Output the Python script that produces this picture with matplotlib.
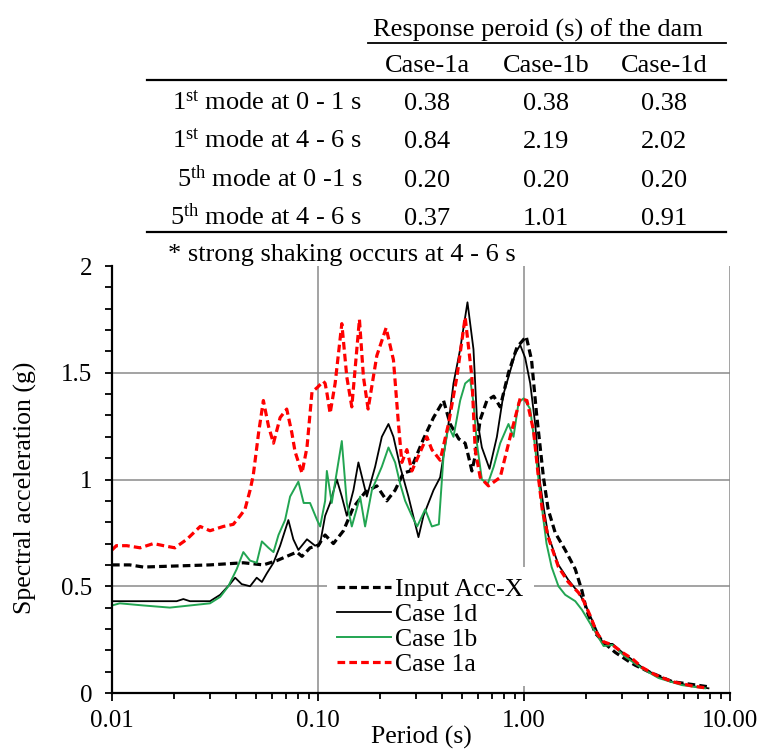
import matplotlib
matplotlib.use("Agg")
import matplotlib.pyplot as plt
from matplotlib.lines import Line2D
from matplotlib.ticker import LogLocator, FormatStrFormatter, MultipleLocator, NullFormatter

plt.rcParams['font.family'] = ['Liberation Serif', 'DejaVu Serif']
plt.rcParams['mathtext.fontset'] = 'custom'
plt.rcParams['mathtext.rm'] = 'Liberation Serif'
plt.rcParams['mathtext.it'] = 'Liberation Serif:italic'

# response spectra (period in s, spectral acceleration in g)
input_T = [0.0100, 0.0122, 0.0142, 0.0206, 0.0299, 0.0434, 0.0543, 0.0631, 0.0705, 0.0789,
           0.0836, 0.0915, 0.1003, 0.1062, 0.1083, 0.1188, 0.1329, 0.1486, 0.1693, 0.1930,
           0.2158, 0.2368, 0.2597, 0.2802, 0.3251, 0.3636, 0.4068, 0.4381, 0.4826, 0.5181,
           0.5371, 0.5585, 0.5794, 0.6128, 0.6604, 0.7129, 0.7663, 0.8407, 0.9249, 1.025,
           1.088, 1.150, 1.243, 1.310, 1.418, 1.585, 1.774, 1.910, 2.010, 2.218,
           2.480, 2.774, 3.240, 3.467, 4.025, 5.250, 7.740]
input_sa = [0.60, 0.60, 0.59, 0.595, 0.60, 0.61, 0.60, 0.62, 0.64, 0.66,
            0.64, 0.68, 0.69, 0.73, 0.74, 0.70, 0.76, 0.87, 0.94, 0.97,
            0.90, 0.95, 1.03, 1.04, 1.19, 1.29, 1.37, 1.26, 1.19, 1.17,
            1.11, 1.04, 1.11, 1.28, 1.37, 1.39, 1.34, 1.50, 1.62, 1.67,
            1.56, 1.31, 1.01, 0.86, 0.75, 0.67, 0.58, 0.48, 0.39, 0.28,
            0.23, 0.19, 0.147, 0.13, 0.10, 0.053, 0.030]

case1d_T = [0.0100, 0.0142, 0.0206, 0.0222, 0.0239, 0.0299, 0.0335, 0.0374, 0.0396, 0.0426,
            0.0468, 0.0504, 0.0534, 0.0564, 0.0608, 0.0655, 0.0718, 0.0759, 0.0803, 0.0884,
            0.0968, 0.1024, 0.1083, 0.1145, 0.1234, 0.1305, 0.1380, 0.1486, 0.1571, 0.1726,
            0.1894, 0.2041, 0.2198, 0.2324, 0.2505, 0.2748, 0.3074, 0.3251, 0.3636, 0.3917,
            0.4298, 0.4546, 0.4899, 0.5316, 0.5685, 0.5906, 0.6245, 0.6801, 0.7386, 0.7950,
            0.8407, 0.9064, 0.9583, 1.013, 1.072, 1.133, 1.199, 1.250, 1.310, 1.470,
            1.640, 1.840, 1.950, 2.100, 2.260, 2.430, 2.690, 3.000, 3.360, 3.740,
            4.340, 5.250, 6.560, 7.860]
case1d_sa = [0.43, 0.43, 0.43, 0.44, 0.43, 0.43, 0.46, 0.51, 0.54, 0.51,
             0.50, 0.54, 0.52, 0.56, 0.61, 0.69, 0.81, 0.72, 0.67, 0.72,
             0.69, 0.70, 0.83, 0.89, 1.00, 0.92, 0.83, 0.95, 1.08, 0.92,
             1.06, 1.20, 1.26, 1.20, 1.06, 0.92, 0.73, 0.83, 0.95, 1.01,
             1.26, 1.45, 1.61, 1.83, 1.61, 1.29, 1.15, 1.05, 1.20, 1.40,
             1.48, 1.59, 1.63, 1.57, 1.45, 1.26, 0.98, 0.86, 0.74, 0.60,
             0.53, 0.47, 0.43, 0.36, 0.29, 0.23, 0.23, 0.19, 0.155, 0.12,
             0.085, 0.052, 0.032, 0.022]

case1b_T = [0.0100, 0.0109, 0.0142, 0.0191, 0.0239, 0.0299, 0.0335, 0.0367, 0.0403, 0.0434,
            0.0468, 0.0504, 0.0534, 0.0575, 0.0608, 0.0643, 0.0692, 0.0732, 0.0803, 0.0852,
            0.0915, 0.0990, 0.1024, 0.1083, 0.1104, 0.1166, 0.1305, 0.1380, 0.1459, 0.1601,
            0.1693, 0.1826, 0.2041, 0.2198, 0.2368, 0.2505, 0.2649, 0.2855, 0.3029, 0.3313,
            0.3570, 0.3860, 0.4068, 0.4298, 0.4546, 0.4899, 0.5181, 0.5479, 0.5685, 0.5906,
            0.6245, 0.6670, 0.7129, 0.7663, 0.8407, 0.8893, 0.9412, 0.9960, 1.072, 1.133,
            1.176, 1.243, 1.286, 1.362, 1.470, 1.585, 1.774, 1.910, 2.143, 2.435,
            2.686, 3.100, 3.740, 4.500, 5.840, 7.590]
case1b_sa = [0.41, 0.42, 0.41, 0.40, 0.41, 0.42, 0.45, 0.50, 0.58, 0.66,
             0.62, 0.61, 0.71, 0.68, 0.66, 0.74, 0.81, 0.92, 0.99, 0.89,
             0.89, 0.81, 0.78, 0.90, 1.04, 0.89, 1.18, 0.89, 0.78, 0.92,
             0.78, 0.95, 1.06, 1.15, 1.08, 0.98, 0.90, 0.83, 0.78, 0.86,
             0.78, 0.79, 1.11, 1.25, 1.20, 1.37, 1.45, 1.47, 1.36, 1.17,
             1.00, 0.98, 1.06, 1.17, 1.26, 1.20, 1.36, 1.38, 1.33, 1.15,
             1.00, 0.81, 0.70, 0.59, 0.50, 0.46, 0.43, 0.39, 0.31, 0.22,
             0.225, 0.17, 0.115, 0.07, 0.037, 0.022]

case1a_T = [0.0100, 0.0105, 0.0118, 0.0137, 0.0159, 0.0178, 0.0202, 0.0231, 0.0268, 0.0299,
            0.0347, 0.0388, 0.0419, 0.0442, 0.0468, 0.0485, 0.0515, 0.0543, 0.0575, 0.0608,
            0.0655, 0.0705, 0.0746, 0.0774, 0.0836, 0.0884, 0.0935, 0.0990, 0.1062, 0.1083,
            0.1107, 0.1145, 0.1211, 0.1305, 0.1380, 0.1459, 0.1589, 0.1662, 0.1751, 0.1930,
            0.2141, 0.2324, 0.2458, 0.2553, 0.2700, 0.2855, 0.3074, 0.3376, 0.3570, 0.3917,
            0.4298, 0.4722, 0.5181, 0.5585, 0.5794, 0.6128, 0.6724, 0.7663, 0.8570, 0.9583,
            1.033, 1.112, 1.172, 1.226, 1.310, 1.470, 1.640, 1.840, 1.950, 2.100,
            2.260, 2.430, 2.690, 3.000, 3.360, 3.740, 4.340, 5.250, 6.560, 7.860]
case1a_sa = [0.67, 0.69, 0.69, 0.68, 0.70, 0.69, 0.68, 0.72, 0.78, 0.76,
             0.78, 0.79, 0.83, 0.86, 0.95, 1.02, 1.22, 1.37, 1.25, 1.17,
             1.29, 1.33, 1.22, 1.13, 1.03, 1.15, 1.41, 1.43, 1.46, 1.45,
             1.40, 1.31, 1.45, 1.73, 1.48, 1.34, 1.75, 1.48, 1.33, 1.58,
             1.71, 1.56, 1.26, 1.08, 1.14, 1.04, 1.11, 1.20, 1.14, 1.09,
             1.26, 1.48, 1.76, 1.48, 1.14, 1.01, 0.97, 1.01, 1.20, 1.38,
             1.37, 1.23, 1.02, 0.86, 0.73, 0.59, 0.52, 0.47, 0.43, 0.36,
             0.28, 0.24, 0.225, 0.19, 0.16, 0.12, 0.085, 0.053, 0.033, 0.022]

# response period table
table_title = 'Response peroid (s) of the dam'
table_cases = ['Case-1a', 'Case-1b', 'Case-1d']
table_modes = ['1$^{\\rm st}$ mode at 0 - 1 s', '1$^{\\rm st}$ mode at 4 - 6 s',
               '5$^{\\rm th}$ mode at 0 -1 s', '5$^{\\rm th}$ mode at 4 - 6 s']
period_1a = [0.38, 0.84, 0.20, 0.37]
period_1b = [0.38, 2.19, 0.20, 1.01]
period_1d = [0.38, 2.02, 0.20, 0.91]
table_note = '* strong shaking occurs at 4 - 6 s'

W, H = 759, 749
fig = plt.figure(figsize=(W / 100, H / 100), dpi=100)


def fy(py):
    return 1 - py / H


def fx(px):
    return px / W


# table
tfs = 19
fig.text(fx(538), fy(37), table_title, ha='center', va='baseline', fontsize=tfs)
fig.add_artist(Line2D([fx(368), fx(726)], [fy(43), fy(43)], color='black', lw=1.3))
col_x = [427, 546, 664]
for cx, name in zip(col_x, table_cases):
    fig.text(fx(cx), fy(72), name, ha='center', va='baseline', fontsize=tfs)
fig.add_artist(Line2D([fx(147), fx(726)], [fy(80), fy(80)], color='black', lw=1.6))
row_y = [110, 148, 187, 225]
for ry, mode, a, b, d in zip(row_y, table_modes, period_1a, period_1b, period_1d):
    fig.text(fx(362), fy(ry), mode, ha='right', va='baseline', fontsize=tfs)
    for cx, v in zip(col_x, (a, b, d)):
        fig.text(fx(cx), fy(ry), f'{v:.2f}', ha='center', va='baseline', fontsize=tfs)
fig.add_artist(Line2D([fx(147), fx(726)], [fy(232), fy(232)], color='black', lw=1.6))
fig.text(fx(168), fy(261), table_note, ha='left', va='baseline', fontsize=tfs)

# spectra
ax = fig.add_axes([fx(112), fy(693), fx(730) - fx(112), fy(266) - fy(693)])
dash = (2.4, 1.3)
ax.plot(input_T, input_sa, color='black', lw=2.3, dashes=dash, label='Input Acc-X')
ax.plot(case1d_T, case1d_sa, color='black', lw=1.3, label='Case 1d')
ax.plot(case1b_T, case1b_sa, color='#22a552', lw=1.4, label='Case 1b')
ax.plot(case1a_T, case1a_sa, color='#ff0000', lw=2.3, dashes=dash, label='Case 1a')

ax.set_xscale('log')
ax.set_xlim(0.01, 10)
ax.set_ylim(0, 2)
ax.xaxis.set_major_locator(LogLocator(base=10, numticks=10))
ax.xaxis.set_minor_locator(LogLocator(base=10, subs=range(2, 10), numticks=10))
ax.xaxis.set_major_formatter(FormatStrFormatter('%.2f'))
ax.xaxis.set_minor_formatter(NullFormatter())
ax.yaxis.set_major_locator(MultipleLocator(0.5))
ax.yaxis.set_minor_locator(MultipleLocator(0.1))
ax.yaxis.set_major_formatter(FormatStrFormatter('%g'))

ax.grid(True, which='major', color='#8a8a8a', lw=1.1)
ax.set_axisbelow(True)
for gl, v in zip(ax.yaxis.get_gridlines(), ax.get_yticks()):
    if v >= 2:
        gl.set_visible(False)

for s in ('top', 'right'):
    ax.spines[s].set_visible(False)
for s in ('left', 'bottom'):
    ax.spines[s].set_linewidth(1.6)
ax.tick_params(which='both', direction='out', width=1.3, colors='black')
ax.tick_params(axis='y', which='both', length=5, labelsize=18, pad=9)
ax.tick_params(axis='x', which='major', length=6, labelsize=18, pad=6)
ax.tick_params(axis='x', which='minor', length=4)

ax.set_xlabel('Period (s)', fontsize=18.5, va='center')
ax.xaxis.set_label_coords(0.5, (693 - 737) / 427)
ax.set_ylabel('Spectral acceleration (g)', fontsize=18.5, va='center')
ax.yaxis.set_label_coords((25 - 112) / 618, 0.48)

leg = ax.legend(loc='lower left', bbox_to_anchor=((327 - 112) / 618, (693 - 686) / 427),
                borderaxespad=0, frameon=True, fancybox=False, framealpha=1,
                facecolor='white', edgecolor='none', fontsize=18.5,
                handlelength=2.1, handletextpad=0.15, labelspacing=0.08, borderpad=0.4)

fig.savefig('out.png', dpi=100)
